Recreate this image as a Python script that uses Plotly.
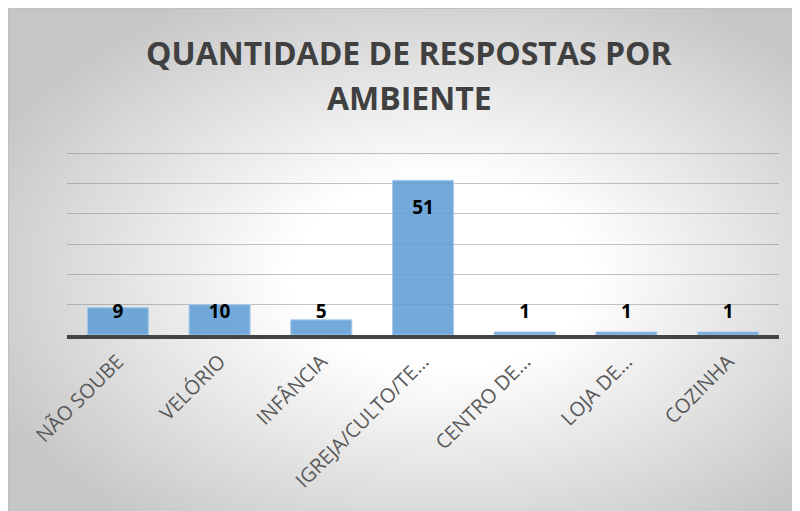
import base64
import plotly.graph_objects as go

categories = ["NÃO SOUBE", "VELÓRIO", "INFÂNCIA", "IGREJA/CULTO/TE…", "CENTRO DE…", "LOJA DE…", "COZINHA"]
values = [9, 10, 5, 51, 1, 1, 1]
title_lines = ["QUANTIDADE DE RESPOSTAS POR", "AMBIENTE"]
y_max = 60
y_step = 10

W, H = 800, 511
ML, MR, MT, MB = 59, 29, 142, 184
pw, ph = W - ML - MR, H - MT - MB

# label positions: inside end of the bar, kept above a minimum height
label_y = [max(v - 9.5, 7.2) for v in values]

svg = f'''<svg xmlns="http://www.w3.org/2000/svg" width="800" height="511" viewBox="0 0 800 511">
<defs><radialGradient id="g" cx="54%" cy="52%" r="62%">
<stop offset="0" stop-color="#ffffff"/><stop offset="0.3" stop-color="#ffffff"/>
<stop offset="1" stop-color="#c6c6c6"/></radialGradient></defs>
<rect x="0" y="0" width="800" height="511" fill="url(#g)"/>
<rect x="0.5" y="0.5" width="799" height="510" fill="none" stroke="#c0c0c0" stroke-width="1"/>
</svg>'''
src = "data:image/svg+xml;base64," + base64.b64encode(svg.encode()).decode()

def px2x(p):
    return (p - ML) / pw

def py2y(p):
    return (H - MB - p) / ph

fig = go.Figure()
fig.add_trace(go.Bar(
    x=categories, y=values,
    marker=dict(color="rgba(91,155,213,0.85)", line=dict(color="#a9cbe9", width=1)),
    hoverinfo="skip",
))
fig.add_trace(go.Scatter(
    x=categories, y=label_y, mode="text", text=[str(v) for v in values],
    textposition="middle center",
    textfont=dict(family="Open Sans", size=19, color="#000000", weight="bold"),
    hoverinfo="skip",
))

fig.add_layout_image(dict(
    source=src, xref="paper", yref="paper",
    x=px2x(0), y=py2y(0), sizex=W / pw, sizey=H / ph,
    xanchor="left", yanchor="top", sizing="stretch", layer="below",
))

for line, yc in zip(title_lines, [44, 89]):
    fig.add_annotation(
        text=line, xref="paper", yref="paper",
        x=px2x(401), y=py2y(yc), xanchor="center", yanchor="middle",
        showarrow=False, align="center",
        font=dict(family="Open Sans", size=32, color="#404040", weight="bold"),
    )

fig.update_layout(
    width=W, height=H,
    margin=dict(l=ML, r=MR, t=MT, b=MB),
    paper_bgcolor="white", plot_bgcolor="rgba(0,0,0,0)",
    showlegend=False, bargap=0.4,
    xaxis=dict(
        tickangle=-45, tickfont=dict(family="Open Sans", size=20, color="#595959"),
        showline=True, linecolor="#444444", linewidth=4, ticks="", showgrid=False,
        ticklabelstandoff=3, fixedrange=True,
    ),
    yaxis=dict(
        range=[0, y_max + 1], dtick=y_step, showticklabels=False, zeroline=False,
        showgrid=True, gridcolor="rgba(110,110,110,0.4)", gridwidth=1, fixedrange=True,
    ),
)

fig.write_html("out.html")
